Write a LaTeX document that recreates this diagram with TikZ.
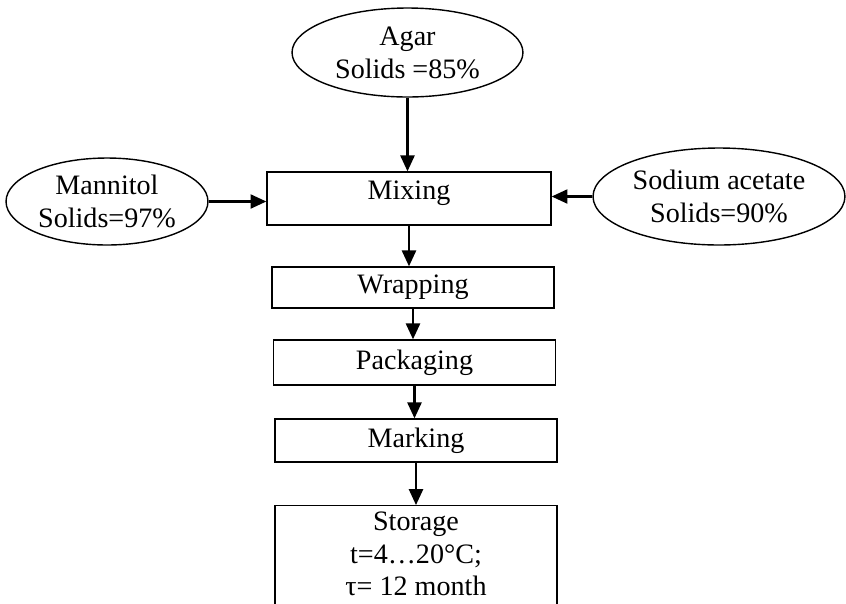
\documentclass[tikz,border=0pt]{standalone}
\usepackage{fontspec}
\setmainfont{Liberation Serif}
\usetikzlibrary{shapes.geometric,arrows.meta}

\begin{document}
\begin{tikzpicture}[
  x=0.02cm, y=-0.02cm,
  font=\fontsize{16}{18.7}\selectfont,
  src/.style={draw, ellipse, line width=0.8pt, inner sep=0pt, align=center},
  stepbox/.style={draw, line width=0.8pt, minimum width=5.64cm, align=center},
  arr/.style={-{Triangle[length=9pt,width=8pt]}, line width=1.2pt}
]
  \clip (0,0) rectangle (846,603);

  % Inputs
  \node[src, minimum width=4.62cm, minimum height=1.78cm] (agar) at (407.5,52.5) {Agar\\Solids =85\%};
  \node[src, minimum width=4.04cm, minimum height=1.74cm] (mannitol) at (107,201.5) {Mannitol\\Solids=97\%};
  \node[src, minimum width=5.04cm, minimum height=1.94cm] (sodium) at (719,196.5) {Sodium acetate\\Solids=90\%};

  % Steps
  \node[stepbox, minimum width=5.68cm, minimum height=1.06cm, text depth=10pt, inner ysep=2pt] (mixing) at (409,198.5) {Mixing};
  \node[stepbox, minimum height=0.82cm] (wrapping) at (413,287.5) {Wrapping};
  \node[stepbox, minimum height=0.90cm] (packaging) at (414.5,362.5) {Packaging};
  \node[stepbox, minimum height=0.86cm] (marking) at (416,440.5) {Marking};
  \node[stepbox, anchor=north, text depth=20pt] (storage) at (416,505) {Storage\\t=4…20°C;\\τ= 12 month};

  % Arrows
  \draw[arr] (agar.south) -- (agar.south |- mixing.north);
  \draw[arr] (mannitol.east) -- (mannitol.east -| mixing.west);
  \draw[arr] (sodium.west) -- (sodium.west -| mixing.east);
  \draw[arr] (mixing.south) -- (mixing.south |- wrapping.north);
  \draw[arr] (wrapping.south) -- (wrapping.south |- packaging.north);
  \draw[arr] (packaging.south) -- (packaging.south |- marking.north);
  \draw[arr] (marking.south) -- (marking.south |- storage.north);
\end{tikzpicture}
\end{document}
